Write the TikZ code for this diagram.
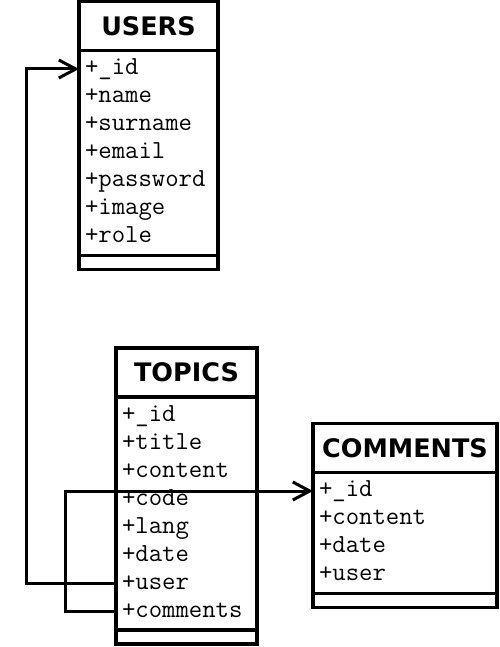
\documentclass[tikz,border=0pt]{standalone}
\usepackage{fontspec}
\newfontfamily\hdrfont{DejaVu Sans}
\usetikzlibrary{positioning,arrows.meta}

\begin{document}
\begin{tikzpicture}[x=1pt,y=-1pt,line width=3.5pt,
   hdr/.style={draw,outer sep=0pt,inner sep=0pt,minimum height=49pt,
      font=\hdrfont\bfseries\fontsize{25.5}{30}\selectfont},
   body/.style={draw,outer sep=0pt,inner sep=0pt},
   foot/.style={draw,outer sep=0pt,inner sep=0pt,minimum height=14pt},
   attr/.style={anchor=west,outer sep=0pt,inner xsep=6pt,inner ysep=1.5pt,
      text height=18pt,text depth=7pt,font=\ttfamily\fontsize{26}{30}\selectfont},
   link/.style={line width=3pt,-{Straight Barb[length=17pt,width=18pt]}}]
   \useasboundingbox (0,0) rectangle (499,647);
   % USERS table
   \node [hdr,minimum width=139pt,anchor=north west] (users) at (79,1.5) {USERS};
   \node [body,minimum width=139pt,minimum height=205pt,below=0pt of users] (users-body) {};
   \node [foot,minimum width=139pt,below=0pt of users-body] (users-foot) {};
   \foreach [count=\i] \a in {\_id,name,surname,email,password,image,role}
       \node [attr] (users-\i) at ([yshift={9.5pt-28pt*\i}]users-body.north west) {+\a};
   % TOPICS table
   \node [hdr,minimum width=141pt,anchor=north west] (topics) at (116,348) {TOPICS};
   \node [body,minimum width=141pt,minimum height=233pt,below=0pt of topics] (topics-body) {};
   \node [foot,minimum width=141pt,below=0pt of topics-body] (topics-foot) {};
   \foreach [count=\i] \a in {\_id,title,content,code,lang,date,user,comments}
       \node [attr] (topics-\i) at ([yshift={9.5pt-28pt*\i}]topics-body.north west) {+\a};
   % COMMENTS table
   \node [hdr,minimum width=184pt,anchor=north west] (comments) at (313,423.5) {COMMENTS};
   \node [body,minimum width=184pt,minimum height=121pt,below=0pt of comments] (comments-body) {};
   \node [foot,minimum width=184pt,below=0pt of comments-body] (comments-foot) {};
   \foreach [count=\i] \a in {\_id,content,date,user}
       \node [attr] (comments-\i) at ([yshift={9.5pt-28pt*\i}]comments-body.north west) {+\a};
   % references between the tables
   \draw [link] (topics-7.west) -- ++(-90,0) |- (users-1.west);
   \draw [link] (topics-8.west) -- ++(-51,0) |- (comments-1.west);
\end{tikzpicture}
\end{document}
